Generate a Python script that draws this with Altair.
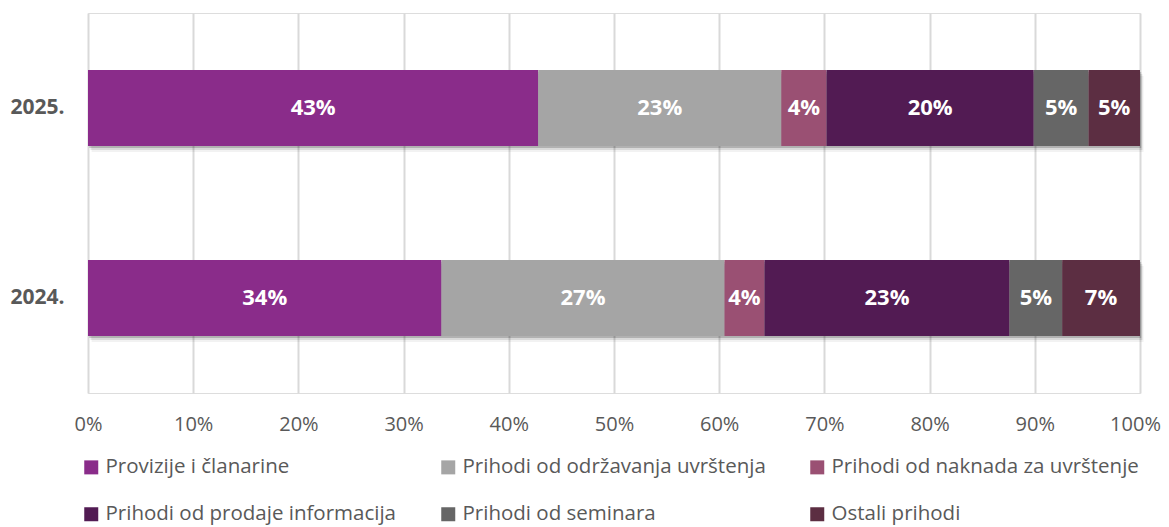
import altair as alt
import pandas as pd

years = ["2025.", "2024."]
categories = [
    "Provizije i članarine",
    "Prihodi od održavanja uvrštenja",
    "Prihodi od naknada za uvrštenje",
    "Prihodi od prodaje informacija",
    "Prihodi od seminara",
    "Ostali prihodi",
]
colors = ["#8A2C8A", "#A5A5A5", "#9A5073", "#521B53", "#666666", "#5C2E42"]
values_2025 = [42.8, 23.1, 4.3, 19.7, 5.2, 4.9]
values_2024 = [33.6, 26.9, 3.8, 23.3, 5.0, 7.4]
labels_2025 = ["43%", "23%", "4%", "20%", "5%", "5%"]
labels_2024 = ["34%", "27%", "4%", "23%", "5%", "7%"]

rows = []
for yr, vals, labs in [(years[0], values_2025, labels_2025), (years[1], values_2024, labels_2024)]:
    for i, (c, v, l) in enumerate(zip(categories, vals, labs)):
        rows.append({"year": yr, "cat": c, "value": v, "label": l, "order": i})
df = pd.DataFrame(rows)
tot = df.groupby("year", as_index=False)["value"].sum()

# legend fills column by column: interleave so rows read 0,1,2 / 3,4,5
leg_idx = [0, 3, 1, 4, 2, 5]
leg_domain = [categories[i] for i in leg_idx]
leg_range = [colors[i] for i in leg_idx]

FONT = "Open Sans"
TXT = "#595959"

y_enc = alt.Y("year:N", sort=years, title=None,
              scale=alt.Scale(paddingInner=0.6, paddingOuter=0.3),
              axis=alt.Axis(labelFontWeight="bold", labelFontSize=21, labelColor=TXT,
                            labelFont=FONT, ticks=False, domain=False, labelPadding=24))

shadows = []
for off, op in [(2, 0.18), (4, 0.10), (6, 0.05)]:
    shadows.append(
        alt.Chart(tot).mark_bar(color="#000000", opacity=op, xOffset=off * 0.6, yOffset=off).encode(
            y=y_enc,
            x=alt.X("value:Q", stack="normalize"),
        )
    )

bars = alt.Chart(df).mark_bar().encode(
    y=y_enc,
    x=alt.X("value:Q", stack="normalize", title=None,
            scale=alt.Scale(domain=[0, 1], nice=False),
            axis=alt.Axis(format=".0%", values=[i / 10 for i in range(11)], grid=True,
                          gridColor="#D9D9D9", gridWidth=2, domain=False, ticks=False,
                          labelFontSize=20, labelColor=TXT, labelFont=FONT, labelPadding=21,
                          labelFlush=False,
                          labelOffset=alt.condition("datum.value == 1", alt.value(-5), alt.value(0)))),
    color=alt.Color("cat:N",
                    scale=alt.Scale(domain=leg_domain, range=leg_range),
                    legend=alt.Legend(title=None, orient="none", legendX=-7, legendY=444,
                                      columns=3, columnPadding=41, rowPadding=26,
                                      symbolType="square", symbolSize=196, symbolStrokeWidth=0,
                                      labelFontSize=20.5, labelColor=TXT, labelFont=FONT,
                                      labelLimit=500, symbolOffset=0, labelOffset=4)),
    order=alt.Order("order:Q"),
)

text = alt.Chart(df).transform_stack(
    stack="value", groupby=["year"], as_=["v0", "v1"], sort=[alt.SortField("order")], offset="normalize"
).transform_calculate(mid="(datum.v0 + datum.v1) / 2").mark_text(
    color="white", fontWeight="bold", fontSize=22, font=FONT
).encode(
    y=alt.Y("year:N", sort=years),
    x=alt.X("mid:Q"),
    text="label:N",
)

chart = alt.layer(*shadows, bars, text).properties(
    width=1052, height=380,
    autosize=alt.AutoSizeParams(type="none"),
    padding={"left": 80, "top": 5, "right": 21, "bottom": 134},
).configure_view(strokeWidth=0, stroke="transparent").configure(background="white")

chart.save("out.html", embed_options={"renderer": "svg", "actions": False})
